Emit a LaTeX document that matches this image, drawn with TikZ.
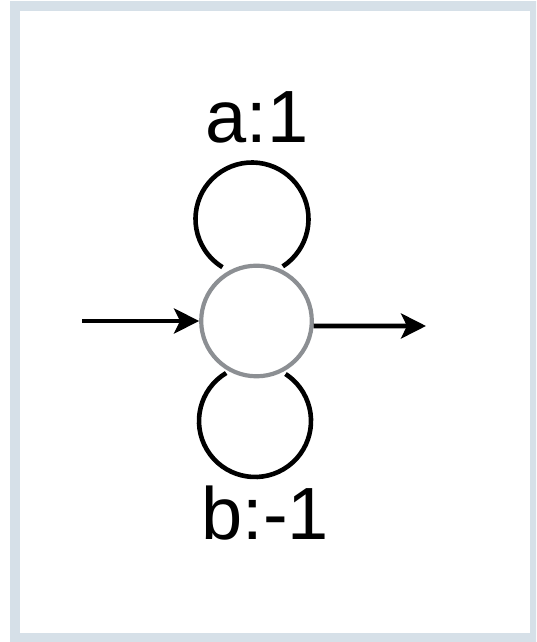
\documentclass[tikz,border=0pt]{standalone}
\usepackage{fontspec}
\setmainfont{Liberation Sans}
\usetikzlibrary{arrows.meta,calc}
\definecolor{framecol}{HTML}{D6E0E8}
\definecolor{nodegray}{HTML}{8C8F93}
\tikzset{
  statenode/.style={circle, draw=nodegray, line width=4.2pt, minimum size=110.6pt, inner sep=0pt, fill=white},
  loopline/.style={draw=black, line width=4.6pt},
  arr/.style={draw=black, line width=4.6pt, -{Stealth[length=25pt, width=25pt, inset=6pt]}},
  lbl/.style={font=\fontsize{74}{88}\selectfont, anchor=base, inner sep=0pt}
}
\begin{document}
\begin{tikzpicture}[x=1pt, y=1pt]
  \useasboundingbox (0,0) rectangle (536,642);
  \clip (0,0) rectangle (536,642);
  \fill[framecol] (10,-5) rectangle (546,641);
  \fill[white] (20,9) rectangle (530,631);

  \node[statenode] (s) at (256.5,321) {};

  % loop centres
  \coordinate (tc) at (252,423);
  \coordinate (bc) at (255,221);
  \coordinate (ta) at ($(tc)+(-57:56.5)$);
  \coordinate (ba) at ($(bc)+(121:56)$);

  \draw[loopline] (ta) arc[start angle=-57, end angle=238.5, radius=56.5];
  \draw[loopline] (ba) arc[start angle=121, end angle=417, radius=56];

  \coordinate (in) at (82,321);
  \coordinate (out) at (426,316);
  \draw[arr] (in) -- (s.west);
  \draw[arr] (s.-5) -- (out);

  \node[lbl] (la) at (257,499.3) {a:1};
  \node[lbl] (lb) at (265.3,102) {b:-1};
\end{tikzpicture}
\end{document}
